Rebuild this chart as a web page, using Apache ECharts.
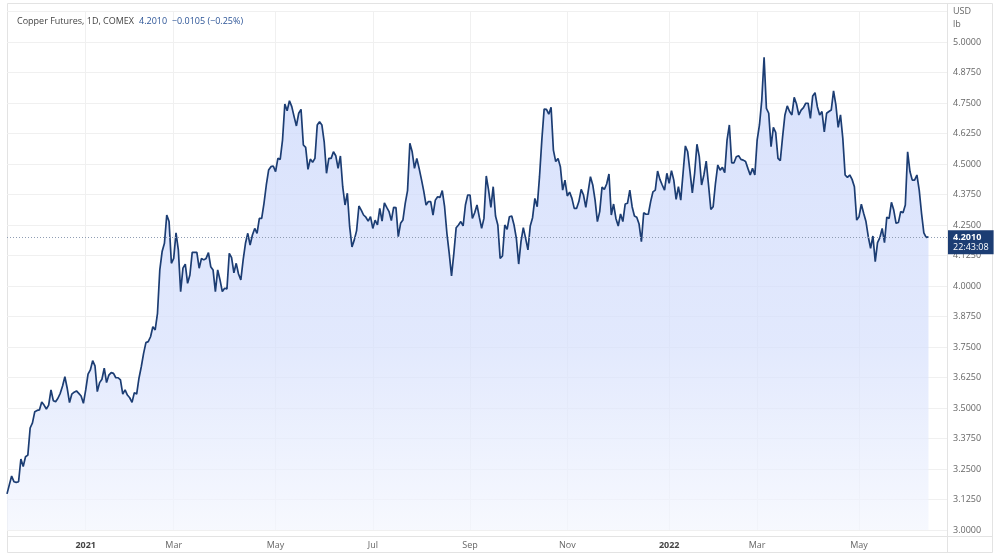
<!DOCTYPE html>
<html>
<head>
<meta charset="utf-8">
<script src="https://cdn.jsdelivr.net/npm/echarts@6/dist/echarts.min.js"></script>
<style>
  html, body { margin: 0; padding: 0; background: #fff; }
  #chart { width: 1000px; height: 558px; }
</style>
</head>
<body>
<div id="chart"></div>
<script>
// daily closes, USD/lb
const closes = [
  3.148, 3.185, 3.221, 3.198, 3.195, 3.198, 3.291, 3.260, 3.300, 3.307,
  3.418, 3.439, 3.485, 3.490, 3.492, 3.525, 3.512, 3.496, 3.512, 3.574,
  3.530, 3.526, 3.540, 3.560, 3.590, 3.628, 3.581, 3.522, 3.557, 3.565,
  3.570, 3.560, 3.549, 3.519, 3.574, 3.639, 3.656, 3.694, 3.673, 3.567,
  3.604, 3.618, 3.663, 3.604, 3.635, 3.645, 3.642, 3.624, 3.624, 3.615,
  3.557, 3.574, 3.553, 3.542, 3.523, 3.563, 3.557, 3.622, 3.669, 3.724,
  3.768, 3.772, 3.792, 3.833, 3.820, 3.888, 4.066, 4.141, 4.175, 4.291,
  4.264, 4.093, 4.113, 4.218, 4.148, 3.977, 4.073, 4.090, 4.011, 4.045,
  4.138, 4.138, 4.138, 4.073, 4.113, 4.107, 4.113, 4.137, 4.079, 4.066,
  3.977, 4.066, 4.025, 3.977, 3.991, 3.988, 4.134, 4.116, 4.054, 4.093,
  4.049, 4.025, 4.107, 4.175, 4.216, 4.168, 4.209, 4.236, 4.216, 4.277,
  4.277, 4.339, 4.414, 4.475, 4.489, 4.492, 4.469, 4.523, 4.519, 4.598,
  4.746, 4.718, 4.759, 4.735, 4.694, 4.656, 4.708, 4.724, 4.578, 4.568,
  4.478, 4.520, 4.507, 4.523, 4.660, 4.673, 4.660, 4.591, 4.462, 4.523,
  4.523, 4.550, 4.534, 4.482, 4.533, 4.407, 4.332, 4.380, 4.243, 4.160,
  4.189, 4.227, 4.328, 4.311, 4.291, 4.282, 4.266, 4.284, 4.236, 4.270,
  4.250, 4.318, 4.266, 4.341, 4.322, 4.305, 4.268, 4.322, 4.321, 4.202,
  4.257, 4.270, 4.339, 4.391, 4.585, 4.550, 4.482, 4.523, 4.482, 4.437,
  4.389, 4.332, 4.346, 4.346, 4.291, 4.352, 4.366, 4.363, 4.391, 4.325,
  4.216, 4.134, 4.041, 4.134, 4.239, 4.250, 4.264, 4.246, 4.332, 4.373,
  4.373, 4.277, 4.300, 4.332, 4.282, 4.236, 4.277, 4.451, 4.393, 4.322,
  4.407, 4.287, 4.250, 4.113, 4.123, 4.250, 4.232, 4.284, 4.287, 4.250,
  4.195, 4.090, 4.182, 4.239, 4.195, 4.148, 4.246, 4.280, 4.359, 4.325,
  4.448, 4.598, 4.725, 4.724, 4.704, 4.732, 4.557, 4.510, 4.523, 4.489,
  4.393, 4.434, 4.369, 4.385, 4.359, 4.318, 4.318, 4.346, 4.396, 4.373,
  4.322, 4.386, 4.448, 4.414, 4.352, 4.264, 4.305, 4.405, 4.396, 4.418,
  4.459, 4.291, 4.336, 4.277, 4.246, 4.295, 4.264, 4.336, 4.339, 4.393,
  4.325, 4.287, 4.282, 4.254, 4.182, 4.300, 4.294, 4.294, 4.346, 4.386,
  4.393, 4.471, 4.437, 4.414, 4.393, 4.462, 4.421, 4.473, 4.434, 4.355,
  4.407, 4.352, 4.462, 4.574, 4.550, 4.469, 4.382, 4.462, 4.581, 4.530,
  4.414, 4.455, 4.512, 4.414, 4.314, 4.325, 4.421, 4.496, 4.475, 4.486,
  4.464, 4.598, 4.660, 4.505, 4.505, 4.530, 4.534, 4.519, 4.516, 4.510,
  4.482, 4.455, 4.482, 4.455, 4.598, 4.660, 4.762, 4.937, 4.728, 4.708,
  4.571, 4.650, 4.630, 4.523, 4.514, 4.612, 4.701, 4.738, 4.715, 4.701,
  4.773, 4.746, 4.701, 4.721, 4.731, 4.749, 4.749, 4.687, 4.779, 4.792,
  4.735, 4.701, 4.715, 4.632, 4.708, 4.715, 4.721, 4.800, 4.742, 4.650,
  4.701, 4.605, 4.455, 4.445, 4.455, 4.437, 4.407, 4.270, 4.284, 4.335,
  4.298, 4.264, 4.202, 4.154, 4.205, 4.100, 4.178, 4.198, 4.236, 4.178,
  4.282, 4.277, 4.343, 4.311, 4.257, 4.260, 4.305, 4.300, 4.332, 4.550,
  4.469, 4.434, 4.434, 4.455, 4.393, 4.298, 4.218, 4.199, 4.201
];

// month ticks: trading-day index -> label
const tickIdx = [34, 72, 116, 158, 200, 242, 286, 324, 368];
const tickLabels = ['2021', 'Mar', 'May', 'Jul', 'Sep', 'Nov', '2022', 'Mar', 'May'];

const slotCount = 407; // chart keeps some empty room after the last close
const categories = Array.from({ length: slotCount }, (_, i) => String(i));

const lastPrice = 4.201;
const lastText = '4.2010';
const lastTime = '22:43:08';
const changeText = '4.2010  \u22120.0105 (\u22120.25%)';

const FONT = '"Open Sans", "Noto Sans", sans-serif';
const GRID_COL = '#f0f0f0';
const FRAME_COL = '#e3e3e3';
const NAVY = '#1c3d73';

const chart = echarts.init(document.getElementById('chart'));

const isTick = (i) => tickIdx.indexOf(i) >= 0;

chart.setOption({
  animation: false,
  backgroundColor: '#fff',
  title: {
    left: 12, top: 7,
    text: '{a|Copper Futures, 1D, COMEX} {b|' + changeText + '}',
    textStyle: {
      fontWeight: 'normal',
      rich: {
        a: { fontFamily: FONT, fontSize: 9, fontWeight: 'normal', color: '#444' },
        b: { fontFamily: FONT, fontSize: 9, fontWeight: 'normal', color: '#2d5597' }
      }
    }
  },
  grid: { left: 7, right: 53, top: 11.5, bottom: 28 },
  xAxis: {
    type: 'category',
    data: categories,
    boundaryGap: false,
    offset: 6,
    axisLine: { show: false },
    axisTick: { show: false },
    axisLabel: {
      interval: (i) => isTick(i),
      margin: 5,
      fontFamily: FONT,
      fontSize: 9,
      color: '#666',
      formatter: (v, i) => {
        const lab = tickLabels[tickIdx.indexOf(i)];
        return /^\d{4}$/.test(lab) ? '{y|' + lab + '}' : lab;
      },
      rich: { y: { fontFamily: FONT, fontSize: 9, fontWeight: 'bold', color: '#444' } }
    },
    splitLine: {
      show: true,
      interval: (i) => isTick(i),
      lineStyle: { color: GRID_COL, width: 1 }
    }
  },
  yAxis: {
    type: 'value',
    position: 'right',
    min: 3,
    max: 5.125,
    interval: 0.125,
    axisLine: { show: false },
    axisTick: { show: false },
    axisLabel: {
      margin: 6,
      fontFamily: FONT,
      fontSize: 9,
      color: '#666',
      formatter: (v) => (v > 5.01 ? '' : v.toFixed(4))
    },
    splitLine: { lineStyle: { color: GRID_COL, width: 1 } }
  },
  graphic: [
    { type: 'rect', silent: true, shape: { x: 7.5, y: 3.5, width: 985, height: 549 },
      style: { fill: null, stroke: FRAME_COL, lineWidth: 1 } },
    { type: 'line', silent: true, shape: { x1: 947.5, y1: 3.5, x2: 947.5, y2: 552.5 },
      style: { stroke: FRAME_COL, lineWidth: 1 } },
    { type: 'line', silent: true, shape: { x1: 7.5, y1: 536.5, x2: 992.5, y2: 536.5 },
      style: { stroke: FRAME_COL, lineWidth: 1 } },
    { type: 'text', silent: true, left: 953, top: 7,
      style: { text: 'USD', fontFamily: FONT, fontSize: 9, fill: '#666' } },
    { type: 'text', silent: true, left: 953, top: 20,
      style: { text: 'lb', fontFamily: FONT, fontSize: 9, fill: '#666' } }
  ],
  series: [{
    type: 'line',
    data: closes,
    showSymbol: false,
    symbol: 'none',
    lineStyle: { color: NAVY, width: 1.7 },
    areaStyle: {
      color: new echarts.graphic.LinearGradient(0, 0, 0, 1, [
        { offset: 0, color: '#c8d5fb' },
        { offset: 0.6, color: '#d5dffc' },
        { offset: 1, color: '#f3f6fe' }
      ])
    },
    markLine: {
      silent: true,
      symbol: 'none',
      lineStyle: { color: '#8f9db3', type: [1, 2], width: 1 },
      data: [{ yAxis: lastPrice }],
      label: {
        position: 'end',
        distance: 1,
        offset: [0, 5],
        formatter: '{p|' + lastText + '}\n{t|' + lastTime + '}',
        backgroundColor: NAVY,
        padding: [2, 5, 2, 5],
        rich: {
          p: { fontFamily: FONT, fontSize: 9, fontWeight: 'bold', color: '#fff', lineHeight: 10 },
          t: { fontFamily: FONT, fontSize: 9, color: '#fff', lineHeight: 10 }
        }
      }
    }
  }]
});
</script>
</body>
</html>
